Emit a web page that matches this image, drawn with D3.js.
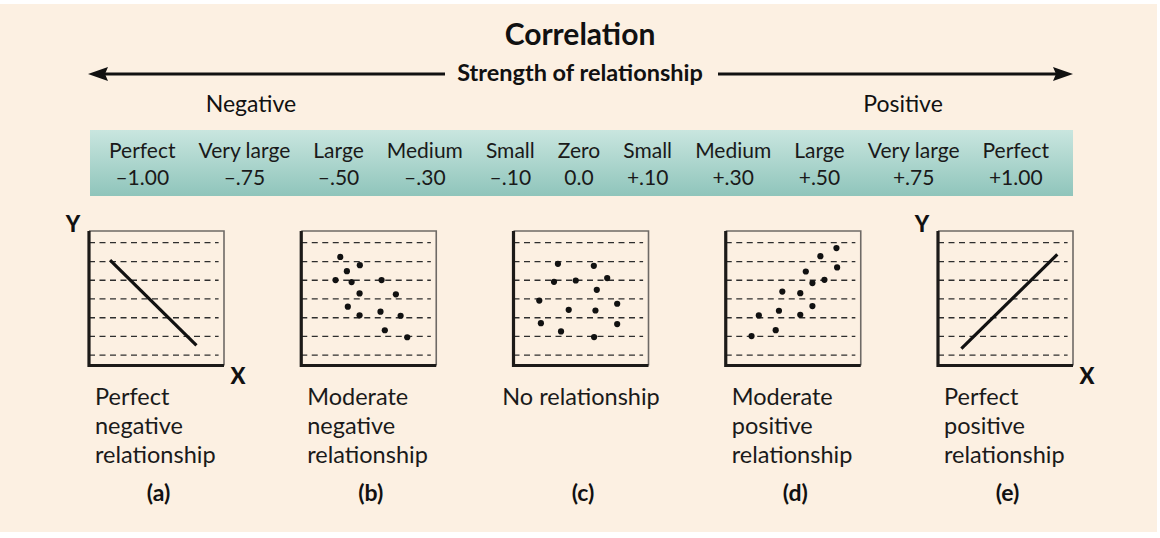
<!DOCTYPE html>
<html><head><meta charset="utf-8">
<script src="https://cdn.jsdelivr.net/npm/d3@7"></script>
<style>html,body{margin:0;padding:0;background:#fff;}svg{display:block;font-family:Lato,"Open Sans",sans-serif;}</style>
</head><body>
<script>
// ---------- data ----------
const title = "Correlation";
const axisTitle = "Strength of relationship";
const sideLabels = ["Negative", "Positive"];
const bandLabels = ["Perfect","Very large","Large","Medium","Small","Zero","Small","Medium","Large","Very large","Perfect"];
const bandValues = ["–1.00","–.75","–.50","–.30","–.10","0.0","+.10","+.30","+.50","+.75","+1.00"];
const panelIds = ["a","b","c","d","e"];
const panelKinds = ["line","dots","dots","dots","line"];
const panelCaptions = [
  ["Perfect","negative","relationship"],
  ["Moderate","negative","relationship"],
  ["No relationship"],
  ["Moderate","positive","relationship"],
  ["Perfect","positive","relationship"]
];
const gridLevels = [7.7, 21.6, 35.5, 49.5, 63.4, 77.3, 91.3];
const lineA = [[15.6,78.4],[79.6,14.9]];
const dotsB = [[28.9,80.7],[43.4,74.6],[33.8,70.1],[25.4,63.5],[37.3,62.0],[59.5,63.5],[43.2,53.6],[70.1,52.9],[34.5,43.7],[43.2,37.3],[58.7,40.0],[73.6,37.0],[61.9,26.2],[78.5,21.0]];
const dotsC = [[32.9,75.6],[59.5,74.1],[30.0,62.2],[46.1,63.2],[69.4,65.0],[61.7,56.3],[19.1,48.3],[76.8,45.9],[40.9,41.4],[60.7,40.9],[20.3,31.5],[76.8,30.8],[35.2,25.3],[59.7,21.1]];
const dotsD = [[82.0,87.3],[70.1,81.3],[82.5,72.9],[59.3,69.9],[73.1,63.7],[64.2,61.3],[41.9,55.0],[55.2,53.8],[64.2,44.2],[39.4,40.7],[55.2,37.7],[24.5,37.2],[37.0,26.3],[19.1,21.9]];
const lineE = [[17.3,12.5],[88.4,82.6]];
const panelData = [lineA, dotsB, dotsC, dotsD, lineE];

// ---------- layout ----------
const W = 1160, H = 538;
const svg = d3.select("body").append("svg").attr("width", W).attr("height", H);
const defs = svg.append("defs");
const grad = defs.append("linearGradient").attr("id","band").attr("x1",0).attr("y1",0).attr("x2",0).attr("y2",1);
grad.append("stop").attr("offset","0%").attr("stop-color","#c9e6df");
grad.append("stop").attr("offset","100%").attr("stop-color","#8fc5bb");

svg.append("rect").attr("x",0).attr("y",4).attr("width",1157).attr("height",528).attr("fill","#fcf0e2");

svg.append("text").attr("x",580).attr("y",45).attr("text-anchor","middle")
  .attr("font-size",30).attr("font-weight",700).attr("fill","#111").text(title);

svg.append("text").attr("x",580).attr("y",81).attr("text-anchor","middle")
  .attr("font-size",23.5).attr("font-weight",700).attr("fill","#111").text(axisTitle);
const arrowY = 74;
svg.append("line").attr("x1",100).attr("x2",445).attr("y1",arrowY).attr("y2",arrowY).attr("stroke","#111").attr("stroke-width",3);
svg.append("line").attr("x1",718).attr("x2",1060).attr("y1",arrowY).attr("y2",arrowY).attr("stroke","#111").attr("stroke-width",3);
svg.append("path").attr("d",`M88,${arrowY} L108,${arrowY-7} L105,${arrowY} L108,${arrowY+7} Z`).attr("fill","#111");
svg.append("path").attr("d",`M1073,${arrowY} L1053,${arrowY-7} L1056,${arrowY} L1053,${arrowY+7} Z`).attr("fill","#111");

svg.append("text").attr("x",251).attr("y",112).attr("text-anchor","middle").attr("font-size",23).attr("fill","#111").text(sideLabels[0]);
svg.append("text").attr("x",903).attr("y",112).attr("text-anchor","middle").attr("font-size",23).attr("fill","#111").text(sideLabels[1]);

const bandX0 = 90, bandX1 = 1073;
svg.append("rect").attr("x",bandX0).attr("y",130).attr("width",bandX1-bandX0).attr("height",66).attr("fill","url(#band)");
const bandG = svg.append("g");
const cells = bandG.selectAll("g").data(bandLabels.map((l,i)=>({l, v: bandValues[i]}))).join("g");
cells.append("text").attr("y",158).attr("text-anchor","middle").attr("font-size",21).attr("fill","#1a1a1a").text(d=>d.l);
cells.append("text").attr("y",185).attr("text-anchor","middle").attr("font-size",21).attr("fill","#1a1a1a").text(d=>d.v);
const widths = [];
cells.each(function(){
  const ts = d3.select(this).selectAll("text").nodes().map(n=>n.getComputedTextLength());
  widths.push(Math.max(...ts));
});
const innerStart = 109, innerEnd = 1049;
const gap = (innerEnd - innerStart - d3.sum(widths)) / (widths.length - 1);
let cx = innerStart;
const centers = widths.map(w => { const c = cx + w/2; cx += w + gap; return c; });
cells.attr("transform",(d,i)=>`translate(${centers[i]},0)`);

const px = d3.scalePoint().domain(panelIds).range([89, 938]);
const PW = 135, PH = 134.5, PT = 231;
const xs = d3.scaleLinear().domain([0,100]).range([0,PW]);
const ys = d3.scaleLinear().domain([0,100]).range([PH,0]);

panelIds.forEach((id, i) => {
  const g = svg.append("g").attr("transform",`translate(${px(id)},${PT})`);
  g.selectAll("line.grid").data(gridLevels).join("line").attr("class","grid")
    .attr("x1",xs(0)).attr("x2",xs(96)).attr("y1",d=>ys(d)).attr("y2",d=>ys(d))
    .attr("stroke","#2e2e2e").attr("stroke-width",1.3).attr("stroke-dasharray","6,4.5");
  g.append("path").attr("d",`M0,0 H${PW} V${PH}`).attr("fill","none").attr("stroke","#6e6a66").attr("stroke-width",1.6);
  g.append("path").attr("d",`M0,0 V${PH} H${PW}`).attr("fill","none").attr("stroke","#1c1a18").attr("stroke-width",3.2);
  const data = panelData[i];
  if (panelKinds[i] === "line") {
    g.append("path").attr("d", d3.line().x(d=>xs(d[0])).y(d=>ys(d[1]))(data))
      .attr("stroke","#111").attr("stroke-width",3.2).attr("fill","none");
    svg.append("text").attr("x",px(id)-16).attr("y",PT+1).attr("text-anchor","middle")
      .attr("font-size",22).attr("font-weight",900).attr("fill","#111").text("Y");
    svg.append("text").attr("x",px(id)+PW+14).attr("y",PT+PH+18).attr("text-anchor","middle")
      .attr("font-size",22).attr("font-weight",900).attr("fill","#111").text("X");
  } else {
    g.selectAll("circle").data(data).join("circle")
      .attr("cx",d=>xs(d[0])).attr("cy",d=>ys(d[1])).attr("r",3.1).attr("fill","#111");
  }
  const cap = panelCaptions[i];
  const centered = cap.length === 1;
  const t = svg.append("text").attr("font-size",23.5).attr("fill","#1a1a1a")
    .attr("text-anchor", centered ? "middle" : "start");
  cap.forEach((line, k) => {
    t.append("tspan").attr("x", centered ? px(id)+PW/2 : px(id)+6).attr("y", 405 + k*29).text(line);
  });
  svg.append("text").attr("x",px(id)+PW/2+2).attr("y",501).attr("text-anchor","middle")
    .attr("font-size",23).attr("font-weight",700).attr("fill","#111").text(`(${id})`);
});
</script>
</body></html>
